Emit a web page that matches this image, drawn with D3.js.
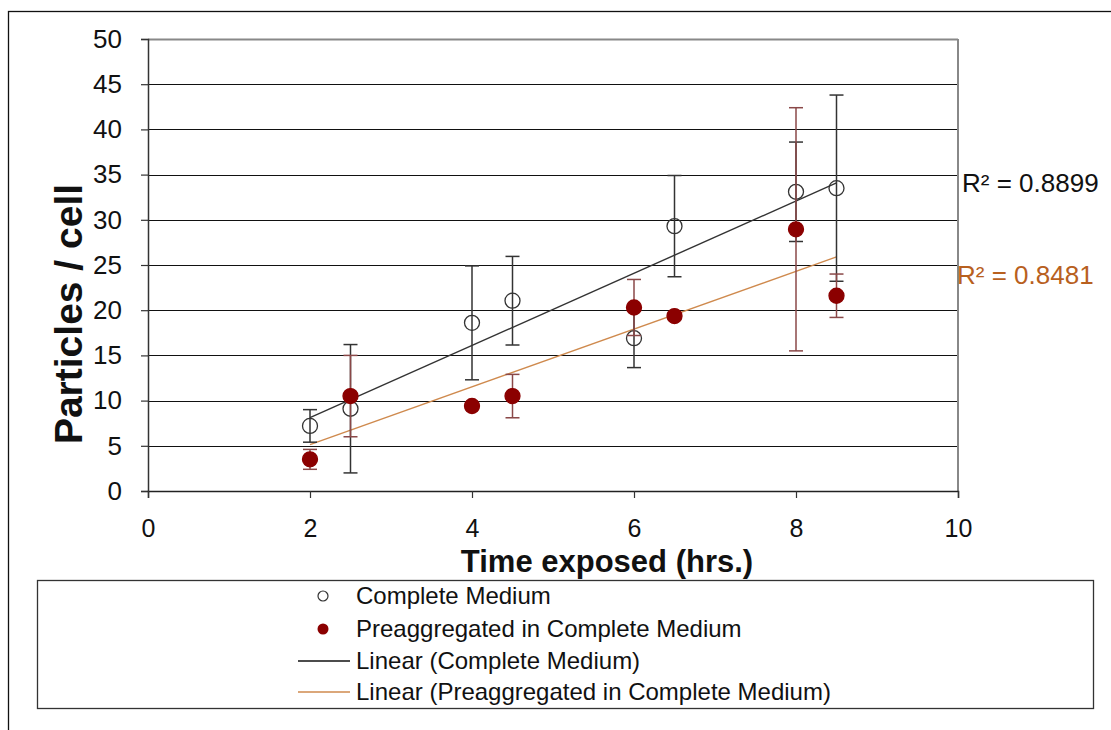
<!DOCTYPE html>
<html>
<head>
<meta charset="utf-8">
<script src="https://cdn.jsdelivr.net/npm/d3@7"></script>
<style>
  body { margin: 0; background: #fff; }
  svg text { font-family: "Liberation Sans", Arial, sans-serif; }
</style>
</head>
<body>
<svg id="chart"></svg>
<script>
// hours exposed
const hours = [2, 2.5, 4, 4.5, 6, 6.5, 8, 8.5];
// Complete Medium: mean particles / cell and error
const completeMean = [7.2, 9.1, 18.6, 21.05, 16.9, 29.3, 33.1, 33.5];
const completeErr = [1.8, 7.1, 6.3, 4.9, 3.25, 5.6, 5.5, 10.3];
// Preaggregated in Complete Medium
const preaggMean = [3.5, 10.5, 9.4, 10.5, 20.3, 19.35, 28.95, 21.6];
const preaggErr = [1.1, 4.5, 0.4, 2.4, 3.1, 0.4, 13.45, 2.4];

const xTicks = [0, 2, 4, 6, 8, 10];
const yTicks = [0, 5, 10, 15, 20, 25, 30, 35, 40, 45, 50];
const r2Labels = ['R² = 0.8899', 'R² = 0.8481'];
const legendLabels = ['Complete Medium', 'Preaggregated in Complete Medium',
  'Linear (Complete Medium)', 'Linear (Preaggregated in Complete Medium)'];

const darkRed = '#8b0000';
const trendOrange = '#cf8a4e';
const r2Orange = '#b8601e';

const config = {
  width: 1111,
  height: 730,
  margin: { top: 39, right: 153, bottom: 239, left: 148 }
};

const svg = d3.select('#chart')
  .attr('width', config.width)
  .attr('height', config.height);

const width = config.width - config.margin.left - config.margin.right;
const height = config.height - config.margin.top - config.margin.bottom;

// outer frame
svg.append('rect')
  .attr('x', 8.5).attr('y', 11.5)
  .attr('width', 1120).attr('height', 740)
  .attr('fill', 'none')
  .attr('stroke', '#111')
  .attr('stroke-width', 1.3);

const chart = svg.append('g')
  .attr('transform', `translate(${config.margin.left},${config.margin.top})`);

const xScale = d3.scaleLinear().domain([0, 10]).range([0, width]);
const yScale = d3.scaleLinear().domain([0, 50]).range([height, 0]);

// grid lines
chart.append('g')
  .selectAll('line')
  .data(yTicks.filter(d => d > 0))
  .join('line')
  .attr('x1', 0).attr('x2', width)
  .attr('y1', d => Math.round(yScale(d)) + 0.5)
  .attr('y2', d => Math.round(yScale(d)) + 0.5)
  .attr('stroke', d => d === 50 ? '#888' : '#111')
  .attr('stroke-width', d => d === 50 ? 2 : 1.2);

// right border
chart.append('line')
  .attr('x1', width).attr('x2', width)
  .attr('y1', 0).attr('y2', height)
  .attr('stroke', '#888').attr('stroke-width', 2);

// axes
const yAxis = d3.axisLeft(yScale).tickValues(yTicks).tickSize(7).tickPadding(19);
const xAxis = d3.axisBottom(xScale).tickValues(xTicks).tickSize(7).tickPadding(21);

chart.append('g')
  .attr('class', 'axis y-axis')
  .call(yAxis)
  .call(g => g.select('.domain').attr('stroke', '#333').attr('stroke-width', 1.5))
  .call(g => g.selectAll('.tick line').attr('stroke', '#333').attr('stroke-width', 1.2))
  .call(g => g.selectAll('.tick text').attr('font-size', 26).attr('fill', '#111')
    .attr('font-family', '"Liberation Sans", Arial, sans-serif'));

chart.append('g')
  .attr('class', 'axis x-axis')
  .attr('transform', `translate(0,${height})`)
  .call(xAxis)
  .call(g => g.select('.domain').attr('stroke', '#222').attr('stroke-width', 1.5))
  .call(g => g.selectAll('.tick line').attr('stroke', '#333').attr('stroke-width', 1.2))
  .call(g => g.selectAll('.tick text').attr('font-size', 25).attr('fill', '#111')
    .attr('font-family', '"Liberation Sans", Arial, sans-serif'));

// axis titles
svg.append('text')
  .attr('transform', 'translate(82,314) rotate(-90)')
  .attr('text-anchor', 'middle')
  .attr('font-size', 39)
  .attr('font-weight', 'bold')
  .attr('fill', '#111')
  .text('Particles / cell');

svg.append('text')
  .attr('x', 607)
  .attr('y', 572)
  .attr('text-anchor', 'middle')
  .attr('font-size', 31)
  .attr('font-weight', 'bold')
  .attr('fill', '#111')
  .text('Time exposed (hrs.)');

// linear fit
function fit(xs, ys) {
  const mx = d3.mean(xs), my = d3.mean(ys);
  const sxy = d3.sum(xs, (x, i) => (x - mx) * (ys[i] - my));
  const sxx = d3.sum(xs, x => (x - mx) ** 2);
  const slope = sxy / sxx;
  return x => my + slope * (x - mx);
}

const series = [
  { mean: completeMean, err: completeErr, errColor: '#333', fill: 'none', stroke: '#333', trend: '#333' },
  { mean: preaggMean, err: preaggErr, errColor: '#8a4848', fill: darkRed, stroke: darkRed, trend: trendOrange }
];

const xExt = d3.extent(hours);

// trendlines
series.forEach(s => {
  const f = fit(hours, s.mean);
  chart.append('line')
    .attr('x1', xScale(xExt[0])).attr('y1', yScale(f(xExt[0])))
    .attr('x2', xScale(xExt[1])).attr('y2', yScale(f(xExt[1])))
    .attr('stroke', s.trend)
    .attr('stroke-width', 1.4);
});

// error bars and markers
series.forEach(s => {
  const pts = hours.map((h, i) => ({ x: h, y: s.mean[i], e: s.err[i] }));
  const g = chart.append('g');
  const eb = g.selectAll('.err')
    .data(pts)
    .join('g')
    .attr('class', 'err')
    .attr('stroke', s.errColor)
    .attr('stroke-width', 1.5);
  eb.append('line')
    .attr('x1', d => xScale(d.x)).attr('x2', d => xScale(d.x))
    .attr('y1', d => yScale(d.y + d.e)).attr('y2', d => yScale(d.y - d.e));
  eb.append('line')
    .attr('x1', d => xScale(d.x) - 7).attr('x2', d => xScale(d.x) + 7)
    .attr('y1', d => yScale(d.y + d.e)).attr('y2', d => yScale(d.y + d.e));
  eb.append('line')
    .attr('x1', d => xScale(d.x) - 7).attr('x2', d => xScale(d.x) + 7)
    .attr('y1', d => yScale(d.y - d.e)).attr('y2', d => yScale(d.y - d.e));

  g.selectAll('.dot')
    .data(pts)
    .join('circle')
    .attr('class', 'dot')
    .attr('cx', d => xScale(d.x))
    .attr('cy', d => yScale(d.y))
    .attr('r', 7.5)
    .attr('fill', s.fill)
    .attr('stroke', s.stroke)
    .attr('stroke-width', 1.3);
});

// R squared labels
svg.append('text')
  .attr('x', 962).attr('y', 192)
  .attr('font-size', 26).attr('fill', '#111')
  .text(r2Labels[0]);
svg.append('text')
  .attr('x', 957).attr('y', 284)
  .attr('font-size', 26).attr('fill', r2Orange)
  .text(r2Labels[1]);

// legend
svg.append('rect')
  .attr('x', 37.5).attr('y', 580.5)
  .attr('width', 1056).attr('height', 128)
  .attr('fill', '#fff')
  .attr('stroke', '#333')
  .attr('stroke-width', 1.3);

const legendRows = [596, 629, 661, 692];
const legend = svg.append('g');
legend.selectAll('text')
  .data(legendLabels)
  .join('text')
  .attr('x', 356)
  .attr('y', (d, i) => legendRows[i] + 8)
  .attr('font-size', 24)
  .attr('fill', '#111')
  .text(d => d);

legend.append('circle')
  .attr('cx', 323).attr('cy', legendRows[0]).attr('r', 5)
  .attr('fill', 'none').attr('stroke', '#333').attr('stroke-width', 1.2);
legend.append('circle')
  .attr('cx', 323).attr('cy', legendRows[1]).attr('r', 5.5)
  .attr('fill', darkRed);
legend.append('line')
  .attr('x1', 298).attr('x2', 350)
  .attr('y1', legendRows[2]).attr('y2', legendRows[2])
  .attr('stroke', '#111').attr('stroke-width', 1.3);
legend.append('line')
  .attr('x1', 298).attr('x2', 350)
  .attr('y1', legendRows[3]).attr('y2', legendRows[3])
  .attr('stroke', trendOrange).attr('stroke-width', 1.4);
</script>
</body>
</html>
